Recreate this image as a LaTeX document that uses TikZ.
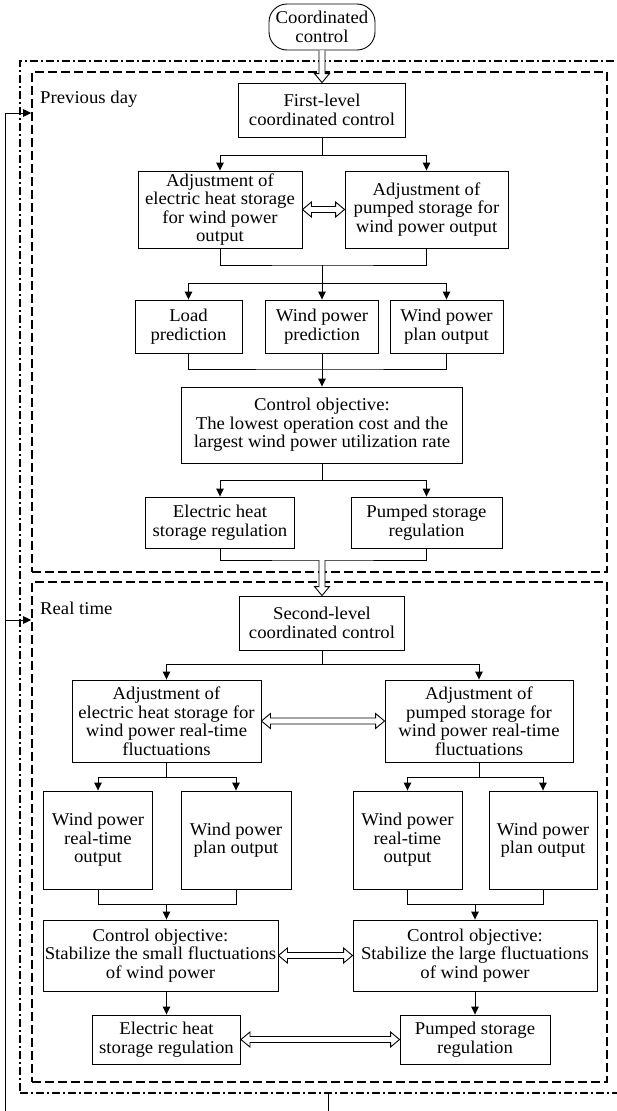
\documentclass[tikz,border=0pt]{standalone}
\usepackage{fontspec}
\setmainfont{Liberation Serif}[FakeStretch=1.04]
\usetikzlibrary{arrows.meta,calc}
\newcommand{\fs}{\fontsize{18pt}{18.5pt}\selectfont}
\begin{document}
\begin{tikzpicture}[x=1pt,y=-1pt,
  nbox/.style={draw,line width=0.9pt,align=center,inner sep=0pt,font=\fs},
  lbl/.style={inner sep=0pt,font=\fs},
  conn/.style={line width=0.9pt},
  arr/.style={conn,-{Triangle[width=7.5pt,length=8pt]}},
  dashbox/.style={draw,line width=1.6pt,dash pattern=on 9pt off 4pt,inner sep=0pt},
  dotbox/.style={draw,line width=1.6pt,dash pattern=on 8pt off 3pt on 2pt off 3pt,inner sep=0pt},
  hollowH/.style={line width=0.9pt,fill=white,line join=miter,
    to path={(\tikztostart) -- ++(9,7.5) -- ++(0,-4.5) -- ($(\tikztotarget)+(-9,3)$) -- ++(0,4.5) -- (\tikztotarget) -- ++(-9,-7.5) -- ++(0,4.5) -- ($(\tikztostart)+(9,-3)$) -- ++(0,-4.5) -- cycle}},
  hollowV/.style={line width=0.9pt,fill=white,line join=miter,
    to path={($(\tikztostart)+(-3,0)$) -- ($(\tikztotarget)+(-3,-9)$) -- ++(-4.5,0) -- (\tikztotarget) -- ++(7.5,-9) -- ++(-4.5,0) -- ($(\tikztostart)+(3,0)$)}}
]
\useasboundingbox (0,0) rectangle (617,1111);
\clip (0,0) rectangle (617,1111);

% containers
\node[dotbox,minimum width=605pt,minimum height=1032pt] (outer) at (322.5,577) {};
\node[dashbox,minimum width=575pt,minimum height=500pt] (day) at (319.5,322) {};
\node[dashbox,minimum width=575pt,minimum height=500pt] (rt) at (319.5,832) {};
\node[lbl,anchor=west] (lday) at (40,99) {Previous day};
\node[lbl,anchor=west] (lrt) at (40,608) {Real time};

% top
\node[nbox,rounded corners=18pt,minimum width=106pt,minimum height=46pt] (coord) at (322,27) {Coordinated\\control};

% previous day
\node[nbox,minimum width=167pt,minimum height=54pt] (first) at (322,110) {First-level\\coordinated control};
\node[nbox,minimum width=164pt,minimum height=77pt] (adjE) at (220,209.5) {Adjustment of\\electric heat storage\\for wind power\\output};
\node[nbox,minimum width=163pt,minimum height=77pt] (adjP) at (426.5,209.5) {Adjustment of\\pumped storage for\\wind power output};
\node[nbox,minimum width=107pt,minimum height=53pt] (load) at (188.5,326.5) {Load\\prediction};
\node[nbox,minimum width=113pt,minimum height=53pt] (wpp) at (322,326.5) {Wind power\\prediction};
\node[nbox,minimum width=113pt,minimum height=53pt] (wppo) at (446.5,326.5) {Wind power\\plan output};
\node[nbox,minimum width=281pt,minimum height=76pt] (obj) at (322,425) {Control objective:\\The lowest operation cost and the\\largest wind power utilization rate};
\node[nbox,minimum width=149pt,minimum height=51pt] (regE) at (220,522.5) {Electric heat\\storage regulation};
\node[nbox,minimum width=151pt,minimum height=51pt] (regP) at (426.5,522.5) {Pumped storage\\regulation};

% real time
\node[nbox,minimum width=165pt,minimum height=54pt] (second) at (322,623) {Second-level\\coordinated control};
\node[nbox,minimum width=189pt,minimum height=82pt] (adjER) at (166.5,721) {Adjustment of\\electric heat storage for\\wind power real-time\\fluctuations};
\node[nbox,minimum width=188pt,minimum height=82pt] (adjPR) at (479,721) {Adjustment of\\pumped storage for\\wind power real-time\\fluctuations};
\node[nbox,minimum width=109pt,minimum height=98pt] (wrtL) at (98,840) {Wind power\\real-time\\output};
\node[nbox,minimum width=110pt,minimum height=98pt] (wpoL) at (236,840) {Wind power\\plan output};
\node[nbox,minimum width=109pt,minimum height=98pt] (wrtR) at (407.5,840) {Wind power\\real-time\\output};
\node[nbox,minimum width=108pt,minimum height=98pt] (wpoR) at (543,840) {Wind power\\plan output};
\node[nbox,minimum width=235pt,minimum height=71pt] (objL) at (160.5,955.5) {Control objective:\\Stabilize the small fluctuations\\of wind power};
\node[nbox,minimum width=244pt,minimum height=71pt] (objR) at (475,955.5) {Control objective:\\Stabilize the large fluctuations\\of wind power};
\node[nbox,minimum width=148pt,minimum height=49pt] (regE2) at (166.5,1039.5) {Electric heat\\storage regulation};
\node[nbox,minimum width=150pt,minimum height=49pt] (regP2) at (475,1039.5) {Pumped storage\\regulation};

% connectors previous day
\draw[hollowV] (coord.south) to (first.north);
\draw[arr] (first.south) -- ++(0,18) -| (adjE.north);
\draw[arr] (first.south) -- ++(0,18) -| (adjP.north);
\draw[hollowH] (adjE.east) to (adjP.west);
\coordinate (j2) at (322,265);
\draw[conn] (adjE.south) |- (j2) -| (adjP.south);
\draw[arr] (j2) -- ++(0,18) -| (load.north);
\draw[arr] (j2) -- (wpp.north);
\draw[arr] (j2) -- ++(0,18) -| (wppo.north);
\coordinate (j3) at (322,369);
\draw[conn] (load.south) |- (j3) -| (wppo.south);
\draw[conn] (wpp.south) -- (j3);
\draw[arr] (j3) -- (obj.north);
\draw[arr] (obj.south) -- ++(0,17) -| (regE.north);
\draw[arr] (obj.south) -- ++(0,17) -| (regP.north);
\coordinate (j4) at (322,560);
\draw[conn] (regE.south) |- (j4) -| (regP.south);
\draw[hollowV] (j4) to (second.north);

% connectors real time
\draw[arr] (second.south) -- ++(0,14) -| (adjER.north);
\draw[arr] (second.south) -- ++(0,14) -| (adjPR.north);
\draw[hollowH] (adjER.east) to (adjPR.west);
\draw[arr] (adjER.south) -- ++(0,15) -| (wrtL.north);
\draw[arr] (adjER.south) -- ++(0,15) -| (wpoL.north);
\draw[arr] (adjPR.south) -- ++(0,15) -| (wrtR.north);
\draw[arr] (adjPR.south) -- ++(0,15) -| (wpoR.north);
\coordinate (jL) at (166.5,904);
\coordinate (jR) at (475,904);
\draw[conn] (wrtL.south) |- (jL) -| (wpoL.south);
\draw[conn] (wrtR.south) |- (jR) -| (wpoR.south);
\draw[arr] (jL) -- (jL |- objL.north);
\draw[arr] (jR) -- (jR |- objR.north);
\draw[hollowH] (objL.east) to (objR.west);
\draw[arr] (regE2.north |- objL.south) -- (regE2.north);
\draw[arr] (regP2.north |- objR.south) -- (regP2.north);
\draw[hollowH] (regE2.east) to (regP2.west);

% feedback
\coordinate (fb0) at (328,1093);
\coordinate (fbc) at (5,1114);
\coordinate (f1) at (5,113);
\coordinate (f2) at (5,620);
\draw[conn] (fb0) |- (fbc) -- (f1);
\draw[arr] (f1) -- (f1 -| day.west);
\draw[arr] (f2) -- (f2 -| rt.west);
\end{tikzpicture}
\end{document}
